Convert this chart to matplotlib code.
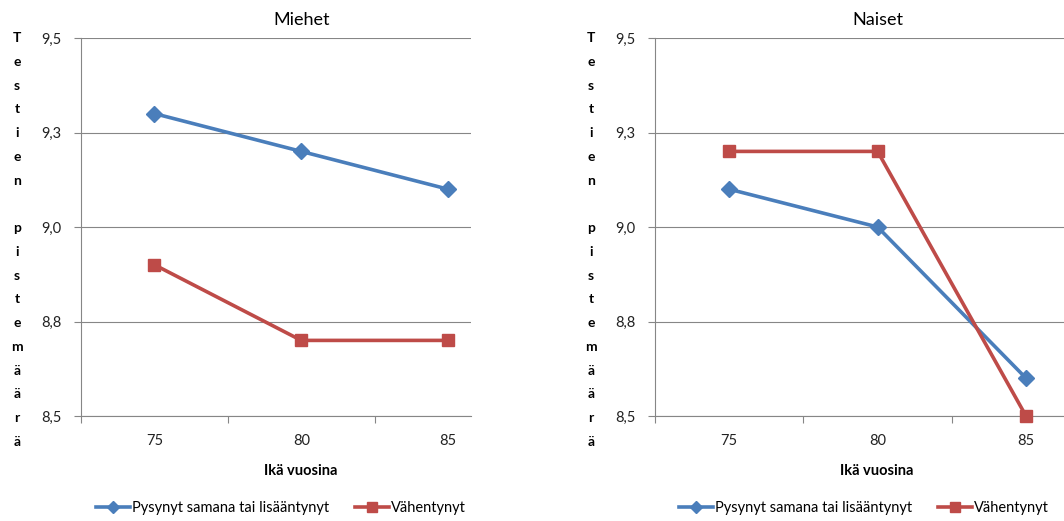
import matplotlib.pyplot as plt

plt.rcParams['font.family'] = ['Lato', 'DejaVu Sans']

ages = [75, 80, 85]
y_ticks = [8.5, 8.75, 9.0, 9.25, 9.5]
y_labels = ['8,5', '8,8', '9,0', '9,3', '9,5']

men_same = [9.30, 9.20, 9.10]
men_down = [8.90, 8.70, 8.70]
women_same = [9.10, 9.00, 8.60]
women_down = [9.20, 9.20, 8.50]

series_names = ['Pysynyt samana tai lisääntynyt', 'Vähentynyt']
ylabel = 'Testien pistemäärä'
xlabel = 'Ikä vuosina'

blue = '#4a7ebb'
red = '#be4b48'
grey = '#868686'

fig = plt.figure(figsize=(10.64, 5.21), dpi=100)

W, H = 1064, 521
top, bottom = 38, 416

panels = [
    # title, same, down, plot left/right px, x limits, title x, ylabel x, legend centre x
    ('Miehet', men_same, men_down, (81, 471), (72.5, 85.78), 302, 17, 281),
    ('Naiset', women_same, women_down, (655, 1064), (72.5, 86.28), 878, 591, 864),
]

for title, same, down, (x0, x1), xlim, tx, lab_x, leg_x in panels:
    ax = fig.add_axes([x0 / W, (H - bottom) / H, (x1 - x0) / W, (bottom - top) / H])
    l1, = ax.plot(ages, same, color=blue, lw=2.6, marker='D', ms=8,
                  label=series_names[0], clip_on=False, zorder=3)
    l2, = ax.plot(ages, down, color=red, lw=2.6, marker='s', ms=9,
                  label=series_names[1], clip_on=False, zorder=3)

    ax.set_xlim(*xlim)
    ax.set_ylim(8.5, 9.5)
    ax.set_yticks(y_ticks)
    ax.set_yticklabels(y_labels)
    ax.set_xticks(ages)
    ax.set_xticklabels([str(a) for a in ages])
    ax.set_xticks([72.5, 77.5, 82.5], minor=True)
    ax.tick_params(axis='x', which='major', length=0, pad=13, labelsize=10.5, labelcolor='#222222')
    ax.tick_params(axis='x', which='minor', length=5, width=0.8, color=grey)
    ax.tick_params(axis='y', length=5, width=0.8, color=grey, pad=9, labelsize=10.5, labelcolor='#222222')
    ax.grid(axis='y', color=grey, lw=0.8)
    ax.set_axisbelow(True)
    for s in ['top', 'right']:
        ax.spines[s].set_visible(False)
    for s in ['left', 'bottom']:
        ax.spines[s].set_color(grey)
        ax.spines[s].set_linewidth(0.8)

    fig.text(tx / W, 1 - 20 / H, title, ha='center', va='center', fontsize=13)
    fig.text((tx - 1) / W, 1 - 471 / H, xlabel, ha='center', va='center',
             fontsize=10.5, fontweight='bold')

    # y label written one letter per row
    chars = list(ylabel)
    step = (442 - 38) / (len(chars) - 1)
    for i, ch in enumerate(chars):
        if ch == ' ':
            continue
        fig.text(lab_x / W, 1 - (38 + i * step) / H, ch, ha='center', va='center',
                 fontsize=10, fontweight='bold')

    fig.legend(handles=[l1, l2], loc='center', bbox_to_anchor=(leg_x / W, 1 - 508 / H),
               ncol=2, frameon=False, fontsize=10.5, handlelength=2.3,
               handletextpad=0.15, columnspacing=1.8, markerscale=0.75)

fig.savefig('out.png', dpi=100)
